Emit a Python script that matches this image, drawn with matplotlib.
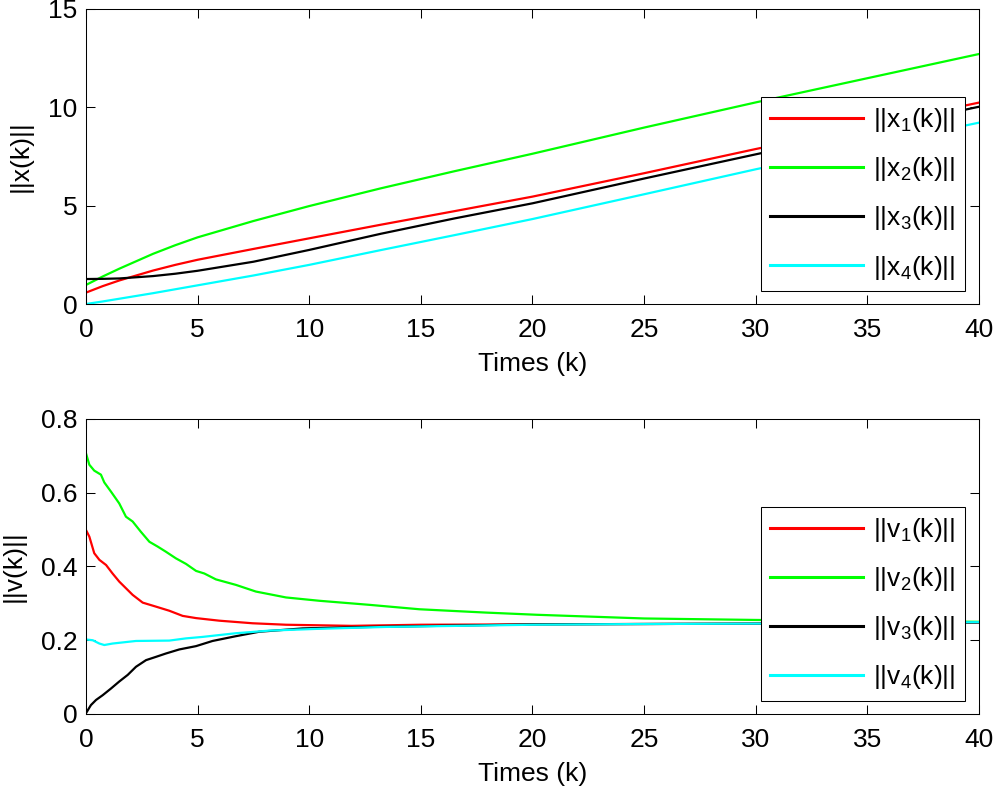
import matplotlib
matplotlib.use('Agg')
import matplotlib.pyplot as plt

plt.rcParams['font.family'] = ['Liberation Sans', 'DejaVu Sans']
plt.rcParams['mathtext.fontset'] = 'custom'
plt.rcParams['mathtext.rm'] = 'Liberation Sans'
plt.rcParams['mathtext.it'] = 'Liberation Sans'
plt.rcParams['font.size'] = 19

# ||x(k)||
k_x = [0, 0.75, 1.5, 3, 4, 5, 7.5, 10, 13.2, 16.5, 20, 25, 30, 35, 40]
x1 = [0.58, 0.91, 1.20, 1.70, 1.99, 2.25, 2.80, 3.34, 4.03, 4.72, 5.46, 6.65, 7.88, 9.05, 10.24]
x2 = [0.97, 1.40, 1.80, 2.55, 2.99, 3.39, 4.22, 4.98, 5.88, 6.75, 7.64, 8.97, 10.25, 11.48, 12.71]
x3 = [1.27, 1.28, 1.30, 1.42, 1.54, 1.69, 2.15, 2.75, 3.57, 4.35, 5.12, 6.38, 7.61, 8.82, 10.03]
x4 = [0.0, 0.13, 0.27, 0.55, 0.75, 0.95, 1.45, 1.99, 2.74, 3.50, 4.32, 5.58, 6.85, 8.04, 9.22]

# ||v(k)||
k_v1 = [0, 0.15, 0.37, 0.6, 0.9, 1.19, 1.49, 1.79, 2.09, 2.54, 3.14, 3.73, 4.33, 4.93,
        5.97, 7.46, 8.96, 11.9, 15, 20, 25, 30, 35, 40]
v1 = [0.499, 0.481, 0.436, 0.418, 0.404, 0.381, 0.359, 0.341, 0.323, 0.302, 0.291, 0.280,
      0.266, 0.260, 0.253, 0.246, 0.242, 0.239, 0.242, 0.243, 0.244, 0.245, 0.247, 0.248]
k_v2 = [0, 0.15, 0.37, 0.67, 0.82, 1.12, 1.49, 1.79, 2.09, 2.46, 2.84, 3.21, 3.58, 4.03,
        4.48, 4.93, 5.3, 5.82, 6.72, 7.61, 8.96, 10.45, 12.69, 14.93, 17.9, 20.2, 25, 30,
        35, 40]
v2 = [0.707, 0.676, 0.660, 0.649, 0.628, 0.603, 0.571, 0.535, 0.522, 0.494, 0.467, 0.454,
      0.440, 0.422, 0.407, 0.388, 0.381, 0.365, 0.350, 0.332, 0.316, 0.307, 0.296, 0.284,
      0.275, 0.269, 0.259, 0.255, 0.252, 0.250]
k_v3 = [0, 0.22, 0.45, 0.75, 1.12, 1.49, 1.87, 2.24, 2.69, 3.14, 3.58, 4.18, 4.93, 5.67,
        6.72, 7.76, 9.7, 12.7, 20, 25, 30, 35, 40]
v3 = [0.002, 0.024, 0.038, 0.051, 0.069, 0.088, 0.106, 0.128, 0.146, 0.155, 0.164, 0.175,
      0.184, 0.198, 0.211, 0.223, 0.232, 0.236, 0.243, 0.244, 0.245, 0.247, 0.248]
k_v4 = [0, 0.3, 0.6, 0.82, 1.19, 2.24, 3.73, 4.48, 5.22, 6.72, 8.2, 10.45, 13.4, 20, 25,
        30, 35, 40]
v4 = [0.202, 0.200, 0.191, 0.187, 0.191, 0.198, 0.199, 0.205, 0.209, 0.219, 0.226, 0.231,
      0.236, 0.242, 0.244, 0.245, 0.247, 0.249]

colors = ['#ff0000', '#00ff00', '#000000', '#00ffff']

fig = plt.figure(figsize=(9.94, 7.87), dpi=100)
ax1 = fig.add_axes([0.0865, 0.6137, 0.8984, 0.3749])
ax2 = fig.add_axes([0.0865, 0.0928, 0.8984, 0.3748])


def style(ax, ylim, yticks):
    ax.set_xlim(0, 40)
    ax.set_ylim(*ylim)
    ax.set_xticks(range(0, 41, 5))
    ax.set_yticks(yticks)
    ax.tick_params(direction='in', length=6.5, width=0.75, top=True, right=True)
    ax.tick_params(axis='x', pad=10)
    ax.tick_params(axis='y', pad=6)
    for s in ax.spines.values():
        s.set_linewidth(0.75)
    ax.set_xlabel('Times (k)', labelpad=7)


for y, c, i in zip([x1, x2, x3, x4], colors, range(1, 5)):
    ax1.plot(k_x, y, color=c, lw=1.6, label='||x$_{%d}$(k)||' % i)
style(ax1, (0, 15), [0, 5, 10, 15])
ax1.set_ylabel('||x(k)||', labelpad=11)

for k, y, c, i in zip([k_v1, k_v2, k_v3, k_v4], [v1, v2, v3, v4], colors, range(1, 5)):
    ax2.plot(k, y, color=c, lw=1.6, label='||v$_{%d}$(k)||' % i)
style(ax2, (0, 0.8), [0, 0.2, 0.4, 0.6, 0.8])
ax2.set_yticklabels(['0', '0.2', '0.4', '0.6', '0.8'])
ax2.set_ylabel('||v(k)||', labelpad=11)

for ax in (ax1, ax2):
    leg = ax.legend(loc='lower right', bbox_to_anchor=(0.984, 0.045), borderaxespad=0,
                    fancybox=False, edgecolor='black', framealpha=1,
                    handlelength=3.5, handletextpad=0.4, labelspacing=0.8,
                    borderpad=0.35)
    leg.get_frame().set_linewidth(0.75)
    for ln in leg.get_lines():
        ln.set_linewidth(2.2)

fig.savefig('out.png', dpi=100)
